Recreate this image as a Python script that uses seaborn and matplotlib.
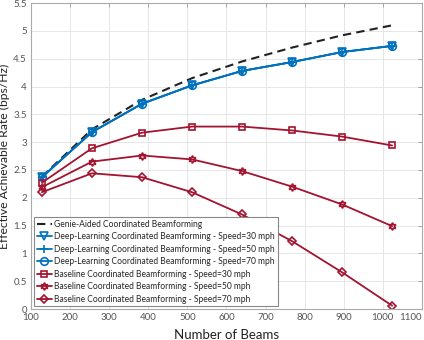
import matplotlib
matplotlib.use("Agg")
import matplotlib.pyplot as plt
import seaborn as sns
import numpy as np

beams = [128, 256, 384, 512, 640, 768, 896, 1024]
genie = [2.38, 3.23, 3.76, 4.15, 4.45, 4.70, 4.92, 5.10]
dl_30 = [2.37, 3.18, 3.69, 4.02, 4.28, 4.44, 4.62, 4.73]
dl_50 = [2.37, 3.18, 3.69, 4.02, 4.28, 4.44, 4.62, 4.73]
dl_70 = [2.37, 3.18, 3.69, 4.02, 4.28, 4.44, 4.62, 4.73]
base_30 = [2.27, 2.89, 3.17, 3.28, 3.28, 3.21, 3.10, 2.94]
base_50 = [2.19, 2.65, 2.76, 2.69, 2.48, 2.20, 1.88, 1.49]
base_70 = [2.10, 2.44, 2.37, 2.10, 1.70, 1.22, 0.66, 0.06]

labels = [
    "Genie-Aided Coordinated Beamforming",
    "Deep-Learning Coordinated Beamforming - Speed=30 mph",
    "Deep-Learning Coordinated Beamforming - Speed=50 mph",
    "Deep-Learning Coordinated Beamforming - Speed=70 mph",
    "Baseline Coordinated Beamforming - Speed=30 mph",
    "Baseline Coordinated Beamforming - Speed=50 mph",
    "Baseline Coordinated Beamforming - Speed=70 mph",
]
xtick_labels = ["100", "200", "300", "400", "500", "600", "700", "800", "900", "1000", "1100"]

sns.set_theme(style="whitegrid")
plt.rcParams['font.family'] = ['Lato', 'DejaVu Sans']

blue = "#0072BD"
red = "#A2142F"

fig = plt.figure(figsize=(4.24, 3.4), dpi=100)
ax = fig.add_axes([0.073, 0.091, 0.922, 0.9])

sns.lineplot(x=beams, y=genie, ax=ax, color="#222222", lw=1.5, label=labels[0])
ax.lines[-1].set_dashes([4, 2.5])
series = [
    (dl_30, blue, "v", labels[1]),
    (dl_50, blue, "+", labels[2]),
    (dl_70, blue, "o", labels[3]),
    (base_30, red, "s", labels[4]),
    (base_50, red, (6, 1, 0), labels[5]),
    (base_70, red, "D", labels[6]),
]
for vals, col, mk, lab in series:
    kw = dict(markerfacecolor="none", markeredgecolor=col, markeredgewidth=1.2)
    ms = 5.5
    if mk in ("s", "D"):
        ms = 4.5
    sns.lineplot(x=beams, y=vals, ax=ax, color=col, lw=1.3, marker=mk,
                 markersize=ms, label=lab, **kw)

ax.set_xlim(100, 1100)
ax.set_ylim(0, 5.5)
ax.set_xticks(np.arange(100, 1101, 100))
ax.set_xticklabels(xtick_labels)
ax.get_xticklabels()[-1].set_horizontalalignment("right")
ax.set_yticks(np.arange(0, 5.51, 0.5))
ax.set_yticklabels(["0", "0.5", "1", "1.5", "2", "2.5", "3", "3.5", "4", "4.5", "5", "5.5"])
ax.tick_params(axis="both", labelsize=7, labelcolor="#555555", color="#999999",
               direction="in", length=3, width=0.6, pad=3, top=True, right=True)
ax.grid(True, color="#e6e6e6", lw=0.7)
for s in ax.spines.values():
    s.set_color("#aaaaaa")
    s.set_linewidth(0.8)
ax.set_xlabel("Number of Beams", fontsize=9.5, color="#222222", labelpad=5)
ax.set_ylabel("Effective Achievable Rate (bps/Hz)", fontsize=8.7, color="#222222", labelpad=2)

leg = ax.legend(loc="lower left", fontsize=6.15, frameon=True, fancybox=False,
                framealpha=1, edgecolor="#888888", borderpad=0.35, labelspacing=0.40,
                handlelength=1.8, handletextpad=0.3, borderaxespad=0.3)
leg.get_frame().set_linewidth(0.8)

fig.savefig("out.png", dpi=100)
